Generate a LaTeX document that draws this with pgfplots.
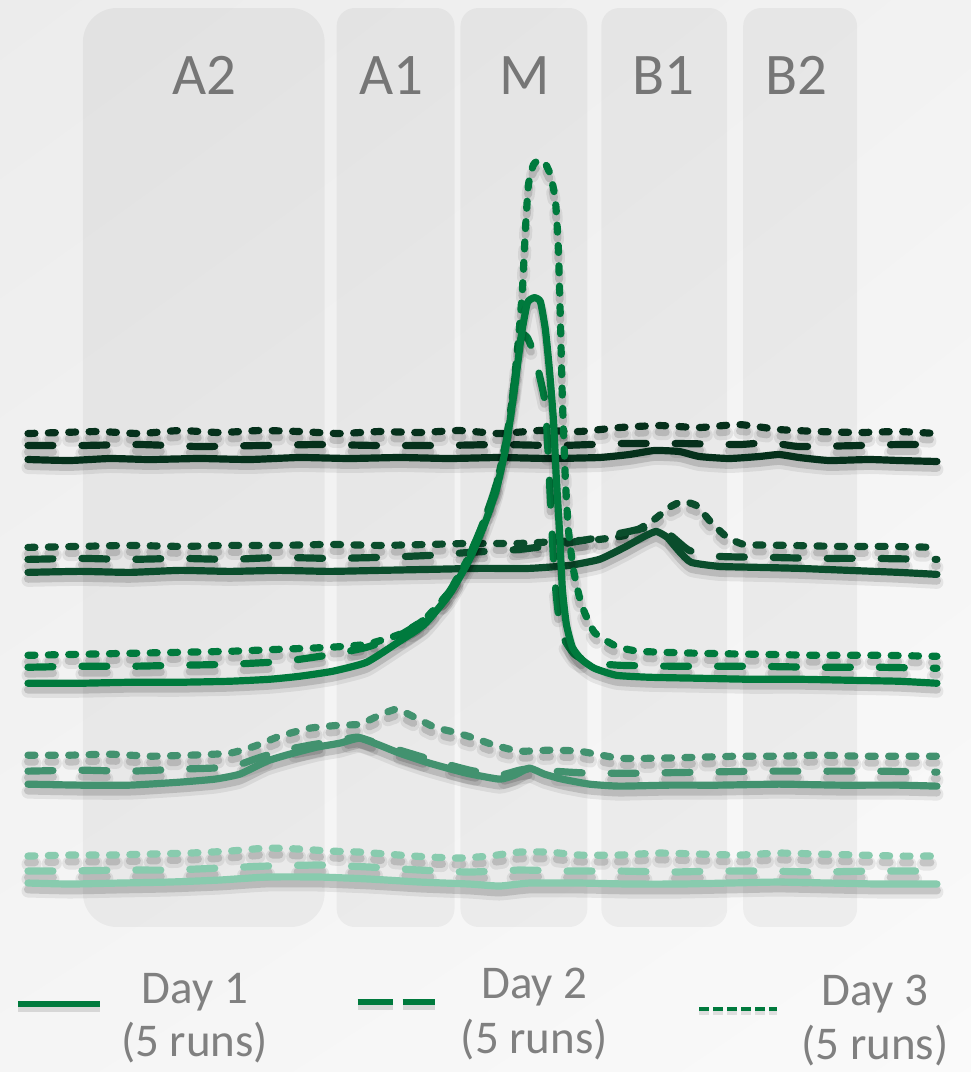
\documentclass[border=0pt]{standalone}
\usepackage{pgfplots}
\pgfplotsset{compat=1.18}
\usetikzlibrary{shadings}
\usepackage{fontspec}
\setmainfont{Carlito}
\definecolor{c1}{RGB}{5,48,27}
\definecolor{c2}{RGB}{10,77,44}
\definecolor{c3}{RGB}{0,122,61}
\definecolor{c4}{RGB}{66,146,111}
\definecolor{c5}{RGB}{136,203,174}
\definecolor{lbl}{RGB}{118,118,118}
\definecolor{leg}{RGB}{128,128,128}
\definecolor{bgA}{RGB}{236,236,236}
\definecolor{bgB}{RGB}{242,242,242}
\definecolor{bgC}{RGB}{245,245,245}
\definecolor{bgD}{RGB}{250,250,250}
\pgfplotsset{
 tr/.style={line width=3.6pt, line cap=round, line join=round, smooth, tension=0.3,
   preaction={draw, black, opacity=0.07, line width=6.5pt, transform canvas={yshift=-4pt}},
   preaction={draw, black, opacity=0.14, line width=4pt, transform canvas={yshift=-3.2pt}}},
 d1/.style={tr, solid},
 d2/.style={tr, dash pattern=on 12.5pt off 14.5pt},
 d3/.style={tr, dash pattern=on 3.5pt off 6.7pt},
}
\tikzset{zl/.style={anchor=base, font=\fontsize{29.5}{30}\selectfont, text=lbl},
         lg/.style={anchor=base, text=leg, font=\fontsize{23.5}{24}\selectfont}}
\begin{document}
\begin{tikzpicture}
\begin{axis}[hide axis, scale only axis, width=486pt, height=536.5pt,
  xmin=0, xmax=972, ymin=0, ymax=1073, y dir=reverse, clip=false]
% background
\shade[upper left=bgA, upper right=bgB, lower left=bgC, lower right=bgD]
  (axis cs:0,0) rectangle (axis cs:972,1073);
% zones
\fill[black, opacity=0.045, rounded corners=17pt] (axis cs:83,8) rectangle (axis cs:325,928);
\fill[black, opacity=0.045, rounded corners=9pt] (axis cs:337,8) rectangle (axis cs:455,928);
\fill[black, opacity=0.045, rounded corners=9pt] (axis cs:461,8) rectangle (axis cs:588,928);
\fill[black, opacity=0.045, rounded corners=9pt] (axis cs:602,8) rectangle (axis cs:728,928);
\fill[black, opacity=0.045, rounded corners=9pt] (axis cs:744,8) rectangle (axis cs:858,928);
% zone labels
\node[zl] at (axis cs:205,95) {A2};
\node[zl] at (axis cs:392,95) {A1};
\node[zl] at (axis cs:525,95) {M};
\node[zl] at (axis cs:664,95) {B1};
\node[zl] at (axis cs:797,95) {B2};
% ---------- group 5 (lightest) ----------
\addplot[d3, c5] coordinates {(28,857)(70,856)(110,856)(150,855)(190,854)(230,852)(267,849)(300,850)(330,852)(360,853)(400,856)(430,858)(460,859)(490,857)(520,853)(550,853)(580,856)(620,856)(660,854)(700,855)(740,856)(780,854)(820,855)(860,856)(900,857)(938,857)};
\addplot[d2, c5] coordinates {(28,872)(70,872)(120,871)(170,871)(220,869)(267,867)(320,866)(370,868)(420,871)(470,873)(520,871)(570,872)(620,872)(670,873)(720,872)(770,872)(820,873)(870,872)(938,872)};
\addplot[d1, c5] coordinates {(28,884)(70,885)(120,884)(170,883)(220,881)(267,878)(320,878)(370,880)(420,883)(470,885)(500,887)(530,884)(580,884)(630,885)(680,885)(730,884)(780,883)(830,884)(880,885)(938,885)};
% ---------- group 4 ----------
\addplot[d3, c4] coordinates {(28,756)(70,756)(110,755)(150,757)(190,756)(230,754)(255,747)(280,737)(310,729)(340,726)(360,725)(380,716)(397,710)(415,718)(435,728)(455,733)(475,739)(495,746)(520,752)(550,751)(580,752)(620,759)(660,759)(700,758)(740,757)(780,757)(820,756)(860,757)(900,757)(938,757)};
\addplot[d2, c4] coordinates {(28,772)(80,771)(130,772)(180,770)(230,768)(255,760)(280,752)(310,746)(335,742)(358,738)(380,745)(410,754)(440,763)(470,771)(500,776)(520,771)(535,769)(555,772)(590,774)(640,774)(700,773)(760,772)(820,772)(880,772)(938,773)};
\addplot[d1, c4] coordinates {(28,785)(80,786)(130,786)(180,783)(215,780)(240,775)(267,762)(290,755)(317,748)(340,744)(360,739)(380,746)(400,754)(430,764)(467,774)(500,780)(515,776)(530,769)(545,775)(563,780)(590,785)(620,787)(670,786)(720,786)(780,785)(840,786)(900,786)(938,787)};
% ---------- group 2 ----------
\addplot[d3, c2] coordinates {(28,548)(80,547)(130,546)(180,547)(230,546)(280,546)(330,545)(380,546)(430,545)(470,544)(520,544)(560,542)(600,540)(630,535)(655,520)(670,508)(683,502)(697,506)(712,523)(727,537)(745,545)(790,546)(840,547)(890,547)(938,548)};
\addplot[d2, c2] coordinates {(28,560)(80,559)(130,560)(180,559)(230,560)(280,558)(330,559)(380,558)(430,556)(470,553)(520,550)(560,545)(600,538)(630,532)(650,528)(670,535)(690,551)(720,557)(770,558)(820,559)(870,559)(938,560)};
\addplot[d1, c2] coordinates {(28,573)(80,572)(130,573)(180,571)(230,572)(280,571)(330,572)(380,571)(430,570)(480,569)(530,569)(570,566)(600,560)(625,548)(645,537)(657,532)(668,538)(680,552)(692,563)(720,567)(760,568)(800,569)(850,571)(900,573)(938,575)};
% ---------- group 1 (darkest) ----------
\addplot[d3, c1] coordinates {(28,434)(60,433)(100,432)(140,434)(180,431)(220,433)(260,431)(300,432)(340,434)(380,432)(420,433)(460,431)(500,434)(540,431)(580,432)(620,428)(660,426)(700,428)(740,425)(780,430)(820,432)(860,433)(900,432)(938,434)};
\addplot[d2, c1] coordinates {(28,446)(80,446)(140,445)(200,447)(260,446)(320,445)(380,446)(440,446)(500,445)(560,446)(620,444)(680,444)(740,445)(770,443)(800,447)(860,446)(900,445)(938,445)};
\addplot[d1, c1] coordinates {(28,460)(70,461)(110,459)(150,460)(200,459)(250,460)(300,458)(350,459)(400,458)(450,459)(500,458)(550,459)(600,458)(630,455)(655,451)(680,452)(700,457)(730,459)(760,457)(780,455)(800,458)(830,461)(870,460)(900,461)(938,462)};
% ---------- group 3 (peak) ----------
\addplot[d3, c3] coordinates {(28,656)(80,655)(130,654)(180,653)(230,652)(280,650)(330,648)(367,645)(400,635)(425,620)(450,592)(470,556)(485,520)(497,485)(507,440)(514,390)(519,340)(523,290)(526,230)(529,185)(534,165)(540,160)(546,164)(551,175)(556,200)(559,250)(561,320)(563,400)(566,480)(569,530)(574,570)(582,605)(595,633)(617,647)(640,652)(700,654)(760,655)(820,656)(880,656)(938,657)};
\addplot[d2, c3] coordinates {(28,668)(80,667)(130,667)(180,666)(230,665)(270,663)(300,660)(333,655)(367,648)(400,636)(425,620)(450,592)(470,556)(485,520)(497,485)(507,440)(514,390)(519,350)(523,335)(528,338)(535,355)(541,380)(546,405)(549,460)(552,520)(555,575)(559,615)(565,640)(575,655)(590,663)(620,666)(680,667)(750,667)(820,668)(880,668)(938,669)};
\addplot[d1, c3] coordinates {(28,684)(80,684)(130,683)(180,683)(230,682)(270,680)(300,677)(333,672)(367,663)(400,642)(425,625)(450,595)(470,560)(485,525)(497,490)(507,445)(515,390)(522,335)(528,303)(535,298)(541,302)(546,330)(550,370)(554,420)(557,480)(560,530)(563,590)(567,625)(573,648)(582,660)(595,669)(617,676)(650,678)(700,679)(750,680)(800,680)(850,681)(900,682)(938,684)};
% ---------- legend ----------
\draw[black, opacity=0.12, line width=3pt] (axis cs:18,1010) -- (axis cs:100,1010);
\draw[c3, line width=2.6pt] (axis cs:18,1005) -- (axis cs:100,1005);
\draw[black, opacity=0.12, line width=3pt] (axis cs:358,1008) -- (axis cs:393,1008) (axis cs:403,1008) -- (axis cs:435,1008);
\draw[c3, line width=2.6pt] (axis cs:358,1003) -- (axis cs:393,1003) (axis cs:403,1003) -- (axis cs:435,1003);
\draw[black, opacity=0.10, line width=2.4pt, dash pattern=on 5pt off 2pt] (axis cs:700,1014) -- (axis cs:778,1014);
\draw[c3, line width=2pt, dash pattern=on 5pt off 2pt] (axis cs:700,1010) -- (axis cs:778,1010);
\node[lg] at (axis cs:195,1005) {Day 1};
\node[lg] at (axis cs:195,1058) {(5 runs)};
\node[lg] at (axis cs:535,1000) {Day 2};
\node[lg] at (axis cs:535,1055) {(5 runs)};
\node[lg] at (axis cs:876,1007) {Day 3};
\node[lg] at (axis cs:876,1061) {(5 runs)};
\end{axis}
\end{tikzpicture}
\end{document}
